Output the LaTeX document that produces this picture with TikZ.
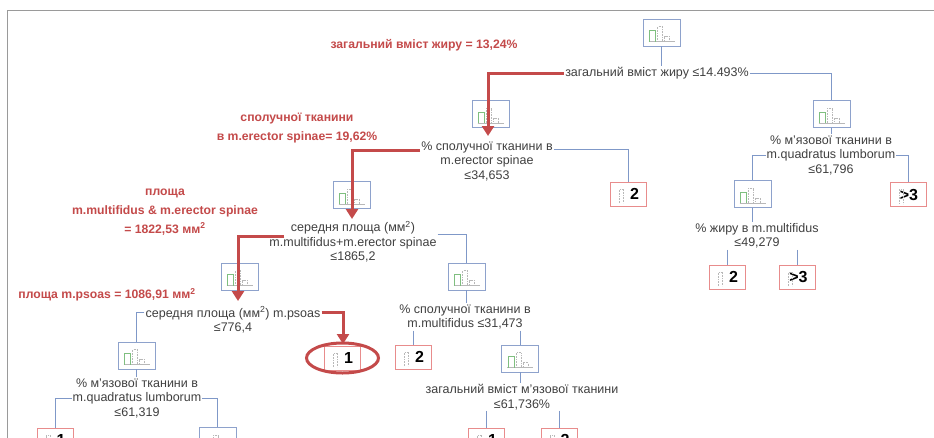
\documentclass[tikz,border=0pt]{standalone}
\usepackage{fontspec}
\setmainfont{Liberation Sans}
\usetikzlibrary{arrows.meta,shapes.geometric}
\definecolor{conn}{HTML}{7F98C8}
\definecolor{ibox}{HTML}{8EA2CC}
\definecolor{lbox}{HTML}{E88C8C}
\definecolor{annot}{HTML}{C44A4A}
\definecolor{txt}{HTML}{404040}
\definecolor{frame}{HTML}{9A9A9A}
\definecolor{histg}{HTML}{7FBF7F}
\definecolor{histgr}{HTML}{B8B8B8}
\newcommand\ihist[1]{%
  \draw[histgr, line width=0.5pt] ([xshift=-13pt,yshift=-9pt]#1.center) -- ++(26pt,0pt);
  \draw[histg, line width=0.7pt] ([xshift=-12pt,yshift=-9pt]#1.center) -- ++(0pt,11pt) -- ++(6pt,0pt) -- ++(0pt,-11pt);
  \draw[histgr, line width=0.6pt, densely dotted] ([xshift=-4pt,yshift=-9pt]#1.center) -- ++(0pt,15pt) -- ++(5pt,0pt) -- ++(0pt,-15pt)
     -- ++(2pt,0pt) -- ++(0pt,5pt) -- ++(5pt,0pt) -- ++(0pt,-5pt);
}
\newcommand\lhist[1]{%
  \draw[histgr, line width=0.6pt, densely dotted] ([xshift=-9pt,yshift=-9pt]#1.center) -- ++(0pt,14pt) -- ++(4pt,0pt) -- ++(0pt,-14pt);
}
\begin{document}
\begin{tikzpicture}[x=1pt,y=-1pt,
  lbl/.style={font=\fontsize{12.5}{14.5}\selectfont, text=txt, align=center, inner sep=1pt},
  note/.style={font=\bfseries\fontsize{12.2}{19}\selectfont, text=annot, align=center, inner sep=1pt},
  hbox/.style={draw=ibox, line width=0.7pt, minimum width=37pt, minimum height=27pt, inner sep=0pt},
  leaf/.style={draw=lbox, line width=1pt, minimum width=36pt, minimum height=24pt, inner sep=0pt, text=black, font=\bfseries\fontsize{16}{16}\selectfont},
  con/.style={draw=conn, line width=0.6pt},
  redarrow/.style={draw=annot, line width=3pt, -{Triangle[width=12pt,length=10pt]}},
]
\clip (0,0) rectangle (934,437);
\fill[white] (0,0) rectangle (934,437);
% frame
\draw[frame, line width=0.8pt] (7,440) -- (7,10) -- (940,10);

% histogram boxes (internal)
\node[hbox] (b0) at (661.5,32.5) {};
\node[hbox] (b1) at (490.5,114) {};
\node[hbox] (b2) at (351.5,195) {};
\node[hbox] (b3) at (239.5,276.5) {};
\node[hbox] (b4) at (466.5,276.5) {};
\node[hbox] (b5) at (136.5,355.5) {};
\node[hbox] (b6) at (520,358.5) {};
\node[hbox] (b7) at (831.5,114) {};
\node[hbox] (b8) at (752.5,194) {};
\node[hbox] (b9) at (217.5,441) {};
\foreach \bx in {b0,b1,b2,b3,b4,b5,b6,b7,b8,b9}{\ihist{\bx}}

% leaves
\node[leaf] (l1) at (628.5,194) {\hspace*{12pt}2};
\node[leaf] (l2) at (908,194.5) {\hspace*{2pt}>3};
\node[leaf] (l3) at (727.5,277) {\hspace*{12pt}2};
\node[leaf] (l4) at (797.5,277) {\hspace*{2pt}>3};
\node[leaf] (l5) at (342.5,358) {\hspace*{12pt}1};
\node[leaf] (l6) at (413.5,357) {\hspace*{12pt}2};
\node[leaf] (l7) at (55,440) {\hspace*{12pt}1};
\node[leaf] (l8) at (486.5,440) {\hspace*{12pt}1};
\node[leaf] (l9) at (559,440) {\hspace*{12pt}2};
\foreach \lf in {l1,l2,l3,l4,l5,l6,l7,l8,l9}{\lhist{\lf}}

% tree labels
\node[lbl] (lab0) at (657,73) {загальний вміст жиру ≤14.493\%};
\node[lbl] (lab1) at (487,161) {\% сполучної тканини в\\m.erector spinae\\≤34,653};
\node[lbl] (lab2) at (353,242) {середня площа (мм\textsuperscript{2})\\m.multifidus+m.erector spinae\\≤1865,2};
\node[lbl] (lab3) at (233,320) {середня площа (мм\textsuperscript{2}) m.psoas\\≤776,4};
\node[lbl] (lab4) at (465,317) {\% сполучної тканини в\\m.multifidus ≤31,473};
\node[lbl] (lab5) at (137,398) {\% м'язової тканини в\\m.quadratus lumborum\\≤61,319};
\node[lbl] (lab6) at (522,397) {загальний вміст м'язової тканини\\≤61,736\%};
\node[lbl] (lab7) at (831,155) {\% м'язової тканини в\\m.quadratus lumborum\\≤61,796};
\node[lbl] (lab8) at (757,236) {\% жиру в m.multifidus\\≤49,279};

% red annotations
\node[note] (n0) at (424,45) {загальний вміст жиру = 13,24\%};
\node[note] (n1) at (297,128) {сполучної тканини\\в m.erector spinae= 19,62\%};
\node[note] (n2) at (165,212) {площа\\m.multifidus \& m.erector spinae\\= 1822,53 мм\textsuperscript{2}};
\node[note] (n3) at (107,295) {площа m.psoas = 1086,91 мм\textsuperscript{2}};

% connectors
\draw[con] (b0.south) -- (b0.south |- lab0.north);
\draw[con] (lab0.east) -| (b7.north);
\draw[con] (b7.south) -- (b7.south |- lab7.north);
\draw[con] (lab7.west) -| (b8.north);
\draw[con] (lab7.east) -| (l2.north);
\draw[con] (b8.south) -- (b8.south |- lab8.north);
\draw[con] (l3.north |- lab8.south) -- (l3.north);
\draw[con] (l4.north |- lab8.south) -- (l4.north);
\draw[con] ([yshift=-9pt]lab1.north east) -| (l1.north);
\draw[con] ([yshift=8pt]lab2.east) -| (b4.north);
\draw[con] (b4.south) -- (b4.south |- lab4.north);
\draw[con] (l6.north |- lab4.south) -- (l6.north);
\draw[con] (b6.north |- lab4.south) -- (b6.north);
\draw[con] (b6.south) -- (b6.south |- lab6.north);
\draw[con] (l8.north |- lab6.south) -- (l8.north);
\draw[con] (l9.north |- lab6.south) -- (l9.north);
\draw[con] ([yshift=-7pt]lab3.north west) -| (b5.north);
\draw[con] (b5.south) -- (b5.south |- lab5.north);
\draw[con] (lab5.west) -| (l7.north);
\draw[con] (lab5.east) -| (b9.north);

% red arrows
\coordinate (t1) at (488,136);
\coordinate (t2) at (352,219);
\coordinate (t3) at (238,301);
\coordinate (t4) at (343,344);
\draw[redarrow] (lab0.west) -| (t1);
\draw[redarrow] ([yshift=-10pt]lab1.north west) -| (t2);
\draw[redarrow] ([xshift=16pt,yshift=6pt]lab2.west) -| (t3);
\draw[redarrow] ([yshift=-7pt]lab3.north east) -| (t4);
\node[draw=annot, line width=3pt, ellipse, minimum width=72pt, minimum height=30pt] (ell) at (l5) {};
\end{tikzpicture}
\end{document}
